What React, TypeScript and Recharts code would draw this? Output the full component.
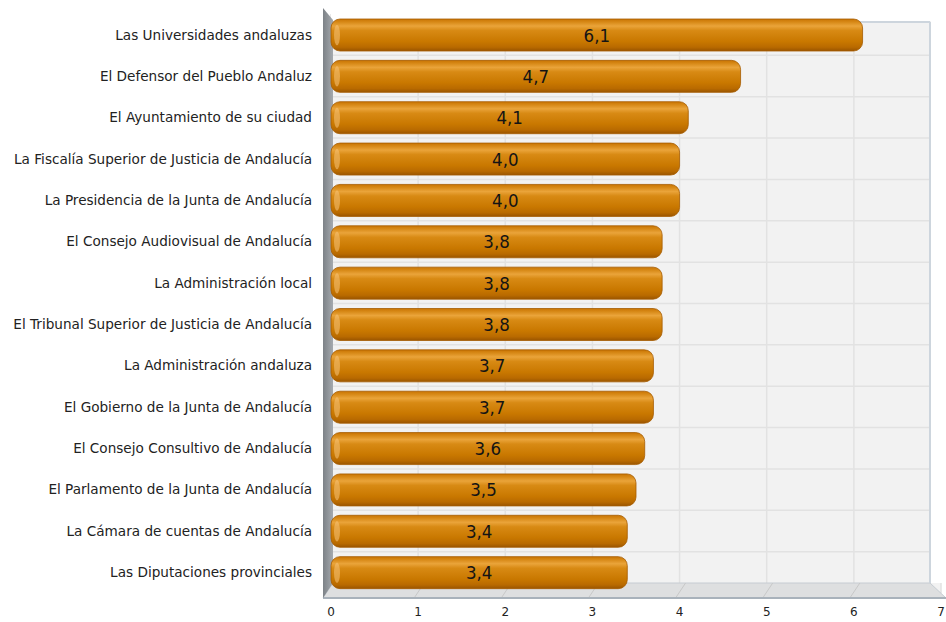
import { Bar, BarChart, CartesianGrid, Customized, LabelList, XAxis, YAxis } from 'recharts';

const categories = [
  'Las Universidades andaluzas',
  'El Defensor del Pueblo Andaluz',
  'El Ayuntamiento de su ciudad',
  'La Fiscalía Superior de Justicia de Andalucía',
  'La Presidencia de la Junta de Andalucía',
  'El Consejo Audiovisual de Andalucía',
  'La Administración local',
  'El Tribunal Superior de Justicia de Andalucía',
  'La Administración andaluza',
  'El Gobierno de la Junta de Andalucía',
  'El Consejo Consultivo de Andalucía',
  'El Parlamento de la Junta de Andalucía',
  'La Cámara de cuentas de Andalucía',
  'Las Diputaciones provinciales',
];
const values = [6.1, 4.7, 4.1, 4.0, 4.0, 3.8, 3.8, 3.8, 3.7, 3.7, 3.6, 3.5, 3.4, 3.4];
const xTicks = [0, 1, 2, 3, 4, 5, 6, 7];

const data = categories.map((name, i) => ({ name, value: values[i] }));

const W = 946;
const H = 622;
const X_H = 29;
const M = { top: 14, right: 5, bottom: 0, left: 0 };
const Y_W = 331;
const FONT = '"DejaVu Sans", Verdana, sans-serif';
const FONT_C = '"DejaVu Sans Condensed", "DejaVu Sans", sans-serif';

const plotTop = M.top;
const plotBottom = H - X_H;
const band = (plotBottom - plotTop) / categories.length;
const rowLines = categories.map((_, i) => plotTop + band * (i + 1));

// 3D box: back wall, left wall, floor
function Box() {
  const bx0 = 333, bx1 = 930, by0 = 22, by1 = 583;
  const fy = 598, fx0 = 323, fx1 = 946;
  const unit = (W - M.right - Y_W) / 7;
  const scale = (v: number) => Y_W + v * unit;
  return (
    <g>
      <defs>
        <linearGradient id="lw" x1="0" y1="0" x2="1" y2="0">
          <stop offset="0" stopColor="#7d8287" />
          <stop offset="1" stopColor="#a4a9ae" />
        </linearGradient>
      </defs>
      <rect x={Y_W} y={plotTop} width={W - Y_W} height={by0 - plotTop - 1} fill="#fff" />
      <rect x={bx1 + 1} y={plotTop} width={W - bx1} height={by1 - plotTop} fill="#fff" />
      <polygon
        points={`${bx0},${by1} ${bx1},${by1} ${fx1},${fy} ${fx0},${fy}`}
        fill="#dedfe0"
        stroke="#c6ccd2"
      />
      {xTicks.slice(1, -1).map((v) => (
        <line key={v} x1={scale(v) + 6} y1={by1} x2={scale(v) - 4} y2={fy} stroke="#c8c8c8" />
      ))}
      <line x1={fx0} y1={fy} x2={fx1} y2={fy} stroke="#a9b2bb" strokeWidth={2} />
      <line x1={bx0} y1={by0} x2={bx1} y2={by0} stroke="#cdd5dd" strokeWidth={2} />
      <line x1={bx1} y1={by0} x2={bx1} y2={by1} stroke="#cdd5dd" strokeWidth={2} />
      <polygon points={`${fx0},8 ${bx0},20 ${bx0},${by1} ${fx0},${fy}`} fill="url(#lw)" />
    </g>
  );
}

function Capsule(props: any) {
  const { x, y, width, height } = props;
  if (!width || width <= 0) return null;
  const r = 9;
  return (
    <g>
      <rect x={x} y={y} width={width} height={height} rx={r} ry={r} fill="url(#barGrad)" />
      <ellipse cx={x + 6} cy={y + height * 0.5} rx={3} ry={height * 0.32} fill="#f5c27a" opacity={0.55} />
      <rect x={x} y={y} width={width} height={height} rx={r} ry={r} fill="none" stroke="#a65c00" strokeWidth={0.8} />
    </g>
  );
}

export default function App() {
  return (
    <div style={{ position: 'absolute', left: 0, top: 0, width: W, height: H, background: '#fff' }}>
      <BarChart width={W} height={H} data={data} layout="vertical" margin={M} barSize={32}>
        <defs>
          <linearGradient id="barGrad" x1="0" y1="0" x2="0" y2="1">
            <stop offset="0" stopColor="#c97402" />
            <stop offset="0.1" stopColor="#d88a18" />
            <stop offset="0.22" stopColor="#eaa43a" />
            <stop offset="0.36" stopColor="#d88a14" />
            <stop offset="0.7" stopColor="#c97800" />
            <stop offset="0.88" stopColor="#b96a00" />
            <stop offset="1" stopColor="#9a5500" />
          </linearGradient>
        </defs>
        <CartesianGrid
          fill="#f2f2f2"
          stroke="#e2e2e2"
          horizontalPoints={rowLines}
          strokeWidth={1.5}
        />
        <Customized component={<Box />} />
        <XAxis
          type="number"
          domain={[0, 7]}
          ticks={xTicks}
          interval={0}
          height={X_H}
          axisLine={false}
          tickLine={false}
          tickSize={0}
          tickMargin={14}
          tick={{ fontSize: 12, fontFamily: FONT, fill: '#222' }}
        />
        <YAxis
          type="category"
          dataKey="name"
          width={Y_W}
          axisLine={false}
          tickLine={false}
          tickSize={0}
          tickMargin={19}
          interval={0}
          tick={{ fontSize: 13.6, fontFamily: FONT, fill: '#222' }}
        />
        <Bar dataKey="value" shape={<Capsule />} isAnimationActive={false}>
          <LabelList
            dataKey="value"
            position="center"
            formatter={(v: any) => Number(v).toFixed(1).replace('.', ',')}
            style={{ fontSize: 18.5, fontFamily: FONT_C, fill: '#141414' }}
          />
        </Bar>
      </BarChart>
    </div>
  );
}
